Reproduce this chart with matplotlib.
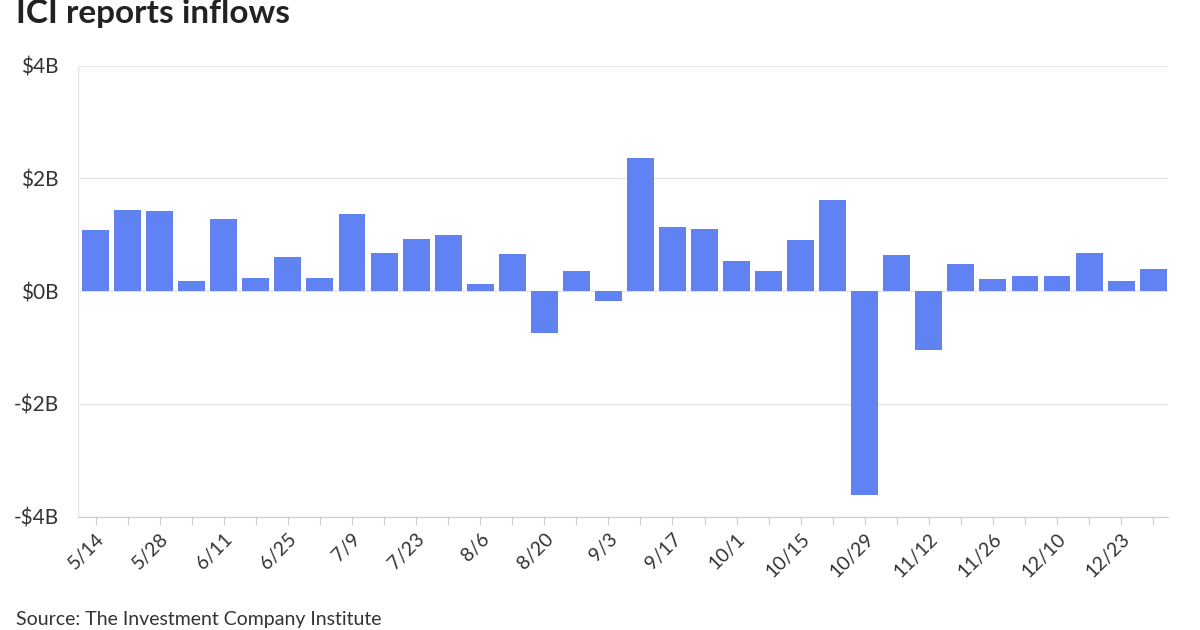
import matplotlib.pyplot as plt
import numpy as np

plt.rcParams['font.family'] = ['Lato', 'DejaVu Sans']

labels = ['5/14', '5/21', '5/28', '6/4', '6/11', '6/18', '6/25', '7/2', '7/9', '7/16',
          '7/23', '7/30', '8/6', '8/13', '8/20', '8/27', '9/3', '9/10', '9/17', '9/24',
          '10/1', '10/8', '10/15', '10/22', '10/29', '11/5', '11/12', '11/19', '11/26',
          '12/3', '12/10', '12/17', '12/23', '12/30']
flows = [1.08, 1.43, 1.42, 0.17, 1.27, 0.24, 0.61, 0.24, 1.36, 0.67,
         0.92, 1.00, 0.12, 0.65, -0.74, 0.35, -0.17, 2.36, 1.13, 1.10,
         0.53, 0.36, 0.91, 1.62, -3.62, 0.64, -1.05, 0.48, 0.21, 0.26,
         0.26, 0.67, 0.18, 0.40]

fig = plt.figure(figsize=(12, 6.3), dpi=100)
ax = fig.add_axes([0.065, 0.18, 0.908, 0.716])

x = np.arange(len(flows))
ax.bar(x, flows, width=0.84, color='#6182F2', zorder=3)

ax.set_ylim(-4, 4)
ax.set_xlim(-0.55, len(flows) - 0.55)
ax.set_yticks([-4, -2, 0, 2, 4])
ax.set_yticklabels(['-$4B', '-$2B', '$0B', '$2B', '$4B'], fontsize=15, color='#333333')
ax.set_xticks(x)
ax.set_xticklabels([l if i % 2 == 0 else '' for i, l in enumerate(labels)],
                   rotation=45, ha='right', rotation_mode='anchor', fontsize=14, color='#333333')
ax.tick_params(axis='y', length=0, pad=14)
ax.tick_params(axis='x', length=6, color='#cccccc', pad=4)
ax.grid(axis='y', color='#e6e6e6', linewidth=1, zorder=0)
for s in ['top', 'right', 'left']:
    ax.spines[s].set_visible(False)
ax.spines['bottom'].set_color('#cccccc')
ax.axvline(-0.55, color='#e6e6e6', linewidth=1, zorder=0)

fig.text(0.013, 0.955, 'ICI reports inflows', fontsize=24, fontweight='bold', color='#222222', va='bottom')
fig.text(0.013, 0.003, 'Source: The Investment Company Institute', fontsize=14, color='#333333', va='bottom')

fig.savefig('out.png', dpi=100)
